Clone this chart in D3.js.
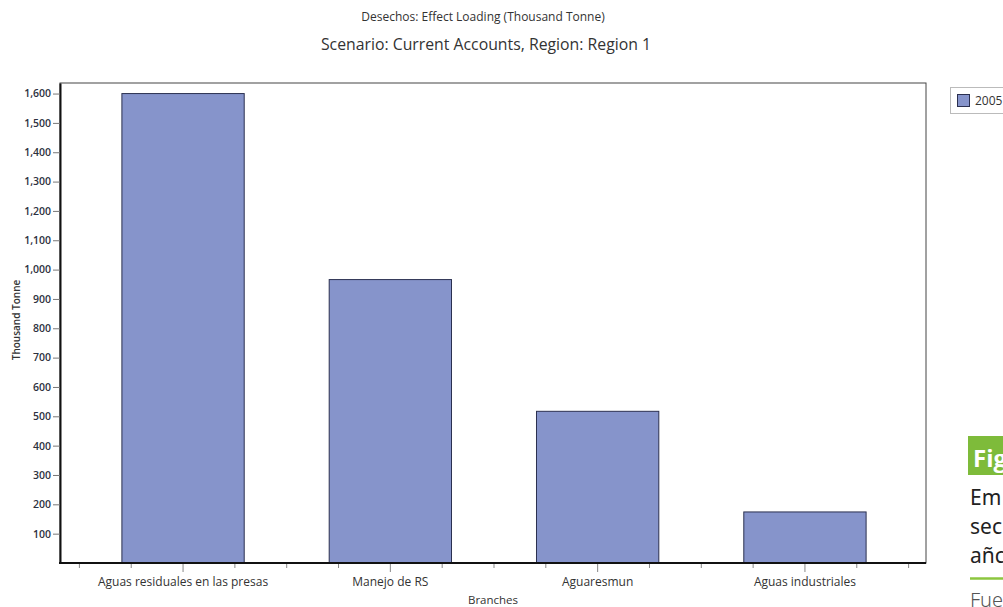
<!DOCTYPE html>
<html>
<head>
<meta charset="utf-8">
<script src="https://cdn.jsdelivr.net/npm/d3@7"></script>
<style>
  html, body { margin: 0; padding: 0; background: #fff; overflow: hidden; }
  svg { display: block; font-family: "Segoe UI", "Open Sans", "Noto Sans", sans-serif; }
</style>
</head>
<body>
<svg id="chart" width="1003" height="607"></svg>
<script>
// Effect loading by branch, 2005
const categories = ["Aguas residuales en las presas", "Manejo de RS", "Aguaresmun", "Aguas industriales"];
const values2005 = [1600, 966, 517, 174];
const yTicks = [100, 200, 300, 400, 500, 600, 700, 800, 900, 1000, 1100, 1200, 1300, 1400, 1500, 1600];
const seriesNames = ["2005"];
const sideLines = ["Em", "sec", "añc"];

const svg = d3.select("#chart");
const frame = { left: 60, right: 926, top: 83, bottom: 563 };

const x = d3.scaleBand().domain(categories).range([79.4, 908.6]).padding(0);
const y = d3.scaleLinear().domain([0, 1636]).range([frame.bottom, frame.top]);

// titles
svg.append("text").attr("x", 483).attr("y", 21).attr("text-anchor", "middle")
  .attr("font-size", 12).attr("fill", "#333").text("Desechos: Effect Loading (Thousand Tonne)");
svg.append("text").attr("x", 486).attr("y", 50).attr("text-anchor", "middle")
  .attr("font-size", 15.8).attr("fill", "#333").text("Scenario: Current Accounts, Region: Region 1");

// plot frame
svg.append("rect").attr("x", frame.left).attr("y", frame.top)
  .attr("width", frame.right - frame.left).attr("height", frame.bottom - frame.top)
  .attr("fill", "#fff").attr("stroke", "#444").attr("stroke-width", 1);

// bars
svg.append("g").selectAll("rect").data(values2005).join("rect")
  .attr("x", (d, i) => x(categories[i]) + x.bandwidth() * 0.205)
  .attr("width", x.bandwidth() * 0.59)
  .attr("y", d => y(d))
  .attr("height", d => y(0) - y(d))
  .attr("fill", "#8694CB")
  .attr("stroke", "#2b3050").attr("stroke-width", 1);

// y axis
const yAxis = d3.axisLeft(y).tickValues(yTicks).tickSizeInner(7).tickSizeOuter(0).tickPadding(2)
  .tickFormat(d3.format(","));
const gy = svg.append("g").attr("transform", `translate(${frame.left},0)`).call(yAxis);
gy.select(".domain").attr("stroke", "#111").attr("stroke-width", 2);
gy.selectAll(".tick line").attr("stroke", "#777");
gy.selectAll(".tick text").attr("font-size", 10.5).attr("fill", "#2d3140")
  .attr("font-family", "'Segoe UI', 'Open Sans', sans-serif").attr("font-weight", 600);

// x axis: major ticks at band centres, minor at quarters of each band
const gx = svg.append("g").attr("transform", `translate(0,${frame.bottom})`);
gx.append("line").attr("x1", frame.left - 1).attr("x2", frame.right)
  .attr("stroke", "#111").attr("stroke-width", 2);
const minor = [];
categories.forEach(c => {
  const s = x(c), bw = x.bandwidth();
  minor.push(s, s + bw * 0.25, s + bw * 0.75);
});
minor.push(x.range()[1]);
gx.selectAll("line.minor").data(minor).join("line").attr("class", "minor")
  .attr("x1", d => d).attr("x2", d => d).attr("y1", 1).attr("y2", 5)
  .attr("stroke", "#888");
gx.selectAll("line.major").data(categories).join("line").attr("class", "major")
  .attr("x1", d => x(d) + x.bandwidth() / 2).attr("x2", d => x(d) + x.bandwidth() / 2)
  .attr("y1", 1).attr("y2", 9).attr("stroke", "#888");
gx.selectAll("text").data(categories).join("text")
  .attr("x", d => x(d) + x.bandwidth() / 2).attr("y", 23)
  .attr("text-anchor", "middle").attr("font-size", 12).attr("fill", "#333").text(d => d);

// axis titles
svg.append("text").attr("x", 493).attr("y", 604).attr("text-anchor", "middle")
  .attr("font-size", 11.5).attr("fill", "#333").text("Branches");
svg.append("text").attr("transform", "translate(20,320) rotate(-90)")
  .attr("text-anchor", "middle").attr("font-size", 10).attr("font-weight", 600)
  .attr("fill", "#333").text("Thousand Tonne");

// legend
const lg = svg.append("g");
lg.append("rect").attr("x", 950.5).attr("y", 87.5).attr("width", 60).attr("height", 26)
  .attr("fill", "#fff").attr("stroke", "#bbb");
lg.selectAll("rect.sw").data(seriesNames).join("rect").attr("class", "sw")
  .attr("x", 957.5).attr("y", 94.5).attr("width", 12).attr("height", 12)
  .attr("fill", "#8694CB").attr("stroke", "#2b3050");
lg.selectAll("text").data(seriesNames).join("text")
  .attr("x", 975).attr("y", 105).attr("font-size", 12).attr("fill", "#333").text(d => d);

// figure caption fragment at the page edge
const cap = svg.append("g");
cap.append("rect").attr("x", 968).attr("y", 436).attr("width", 40).attr("height", 39).attr("fill", "#7EBB3A");
cap.append("text").attr("x", 973).attr("y", 467).attr("font-size", 24).attr("font-weight", 700)
  .attr("fill", "#fff").attr("font-family", "'Open Sans', sans-serif").text("Fig");
cap.selectAll("text.ln").data(sideLines).join("text").attr("class", "ln")
  .attr("x", 970).attr("y", (d, i) => 505 + i * 29).attr("font-size", 21)
  .attr("fill", "#222").attr("font-family", "'Noto Sans', sans-serif").text(d => d);
cap.append("line").attr("x1", 970).attr("x2", 1003).attr("y1", 578.5).attr("y2", 578.5)
  .attr("stroke", "#8CC63F").attr("stroke-width", 2.5);
cap.append("text").attr("x", 970).attr("y", 607).attr("font-size", 20).attr("font-weight", 300)
  .attr("fill", "#555").attr("font-family", "'Noto Sans', sans-serif").text("Fue");
</script>
</body>
</html>
